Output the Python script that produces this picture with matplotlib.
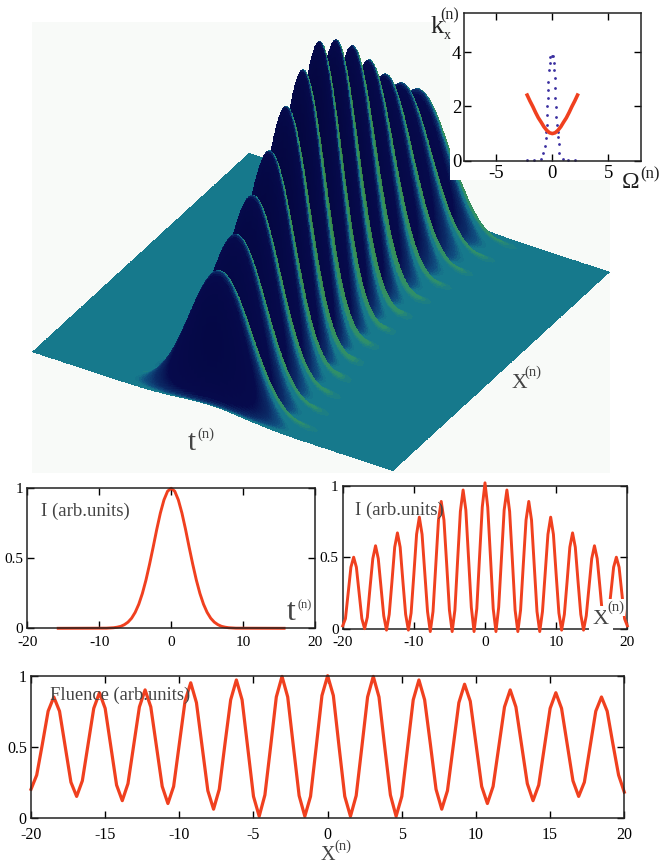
import numpy as np
import matplotlib
matplotlib.use("Agg")
import matplotlib.pyplot as plt
from matplotlib.colors import LinearSegmentedColormap, Normalize
from matplotlib.patches import Rectangle

plt.rcParams["font.family"] = ["Liberation Serif", "DejaVu Serif"]

W, H = 661, 864
RED = "#f0401f"
GREY = "#444444"
DARK = "#222222"

# temporal profile, I(t)
t_vals = [-15.7, -9, -8, -7.5, -7, -6.5, -6, -5.5, -5, -4.5, -4, -3.5, -3, -2.5, -2, -1.5, -1, -0.5, 0,
          0.5, 1, 1.5, 2, 2.5, 3, 3.5, 4, 4.5, 5, 5.5, 6, 6.5, 7, 7.5, 8, 9, 15.7]
i_t = [0, 0.001, 0.004, 0.008, 0.014, 0.026, 0.044, 0.072, 0.114, 0.172, 0.249, 0.345, 0.458, 0.58, 0.707,
       0.823, 0.917, 0.979, 1.0, 0.979, 0.917, 0.823, 0.707, 0.58, 0.458, 0.345, 0.249, 0.172, 0.114,
       0.072, 0.044, 0.026, 0.014, 0.008, 0.004, 0.001, 0]

# pulse gets longer away from the centre of the surface
stretch_x = [-20, -18, -15, -12, -9, -6, -3, 0, 3, 6, 9, 12, 15, 18, 20]
stretch_t = [1.45, 1.4, 1.3, 1.2, 1.1, 1.03, 1.0, 1.0, 1.0, 1.03, 1.1, 1.2, 1.3, 1.4, 1.45]

# fringes, sampled on 105 points between -20 and 20
i_x = [0.02, 0.07, 0.25, 0.43, 0.50, 0.43, 0.25, 0.07, 0.0, 0.08, 0.29, 0.49, 0.58, 0.49, 0.29, 0.09,
       -0.01, 0.10, 0.33, 0.57, 0.67, 0.57, 0.33, 0.10, -0.01, 0.11, 0.38, 0.66, 0.78, 0.66, 0.39, 0.12,
       -0.02, 0.12, 0.44, 0.76, 0.89, 0.76, 0.45, 0.13, -0.02, 0.13, 0.48, 0.82, 0.97, 0.83, 0.49, 0.15,
       -0.02, 0.14, 0.50, 0.85, 1.02, 0.85, 0.50, 0.14, -0.02, 0.15, 0.49, 0.83, 0.97, 0.82, 0.48, 0.13,
       -0.02, 0.13, 0.45, 0.76, 0.89, 0.76, 0.44, 0.12, -0.02, 0.12, 0.39, 0.66, 0.78, 0.66, 0.38, 0.11,
       -0.01, 0.10, 0.33, 0.57, 0.67, 0.57, 0.33, 0.10, -0.01, 0.09, 0.29, 0.49, 0.58, 0.49, 0.29, 0.08,
       0.0, 0.07, 0.25, 0.43, 0.50, 0.43, 0.25, 0.07, 0.02]
fluence = [0.20, 0.30, 0.52, 0.75, 0.85, 0.75, 0.50, 0.25, 0.15, 0.26, 0.515, 0.77, 0.88, 0.77, 0.50, 0.23,
           0.12, 0.24, 0.51, 0.78, 0.90, 0.78, 0.50, 0.22, 0.10, 0.22, 0.52, 0.82, 0.95, 0.81, 0.50, 0.19,
           0.06, 0.20, 0.52, 0.83, 0.97, 0.83, 0.49, 0.15, 0.01, 0.16, 0.50, 0.85, 0.995, 0.85, 0.50, 0.155,
           0.01, 0.15, 0.50, 0.86, 1.0, 0.86, 0.50, 0.15, 0.01, 0.155, 0.50, 0.85, 0.995, 0.85, 0.50, 0.16,
           0.01, 0.15, 0.49, 0.83, 0.97, 0.83, 0.52, 0.20, 0.06, 0.19, 0.50, 0.81, 0.94, 0.82, 0.52, 0.22,
           0.10, 0.22, 0.50, 0.78, 0.90, 0.78, 0.51, 0.24, 0.12, 0.23, 0.50, 0.77, 0.88, 0.77, 0.515, 0.26,
           0.15, 0.25, 0.50, 0.75, 0.85, 0.75, 0.52, 0.30, 0.18]
x_vals = np.linspace(-20, 20, len(i_x))

# inset: dispersion curve and dotted spectrum
omega_curve = [-2.25, -2, -1.75, -1.5, -1.25, -1, -0.75, -0.5, -0.25, 0, 0.25, 0.5, 0.75, 1, 1.25, 1.5, 1.75, 2, 2.25]
k_curve = [2.42, 2.2, 2.0, 1.78, 1.58, 1.42, 1.25, 1.12, 1.03, 1.0, 1.03, 1.12, 1.25, 1.42, 1.58, 1.78, 2.0, 2.2, 2.42]
omega_dots = [-2.25, -1.65, -1.05, -0.84, -0.66, -0.57, -0.54, -0.51, -0.48, -0.45, -0.43, -0.40, -0.36, -0.30,
              -0.24, -0.21, -0.06, 0.09, 0.15, 0.18, 0.21, 0.24, 0.27, 0.33, 0.36, 0.42, 0.48, 0.54, 0.57, 0.63,
              0.93, 1.44, 2.04]
k_dots = [0.02, 0.02, 0.05, 0.27, 0.54, 0.83, 1.07, 1.32, 1.69, 2.0, 2.31, 2.62, 2.92, 3.35, 3.6, 3.82, 3.85, 3.87,
          3.6, 3.35, 3.04, 2.67, 2.3, 1.98, 1.6, 1.3, 1.05, 0.86, 0.62, 0.3, 0.06, 0.03, 0.02]

# layout in pixels: left, top, right, bottom
BOX_INSET = (464, 12.7, 640.7, 160.7)
BOX_T = (27.3, 488.3, 315, 628.3)
BOX_X = (342.7, 485.7, 627.3, 628.7)
BOX_F = (31, 675.7, 624.3, 817.7)


def add_panel(fig, box, xpad=5.5, ypad=3, size=11):
    l, t, r, b = box
    ax = fig.add_axes([l / W, 1 - b / H, (r - l) / W, (b - t) / H])
    ax.tick_params(direction="in", top=True, right=True, length=5, width=1, labelsize=size)
    ax.tick_params(axis="x", pad=xpad)
    ax.tick_params(axis="y", pad=ypad)
    for s in ax.spines.values():
        s.set_linewidth(1.1)
        s.set_color(DARK)
    return ax


def label(fig, x, y, s, size=21, color=GREY, **kw):
    return fig.text(x / W, 1 - y / H, s, fontsize=size, color=color, ha="left", va="baseline", **kw)


def draw_surface(ax):
    # ground plane corners from the picture
    left = np.array([32.0, 352.0])
    bottom = np.array([393.0, 471.0])
    right = np.array([610.0, 272.0])
    z_px = 268.0

    # back to front, so later quads hide earlier ones
    xs = np.linspace(20, -20, 900)
    ts = np.linspace(-20, 20, 620)

    # smooth version of the sampled lineouts
    n_fine = 4200
    spec = np.fft.rfft(np.clip(i_x, 0, None))
    prof = np.fft.irfft(spec, n_fine) * n_fine / len(i_x)
    zx = np.interp(xs, np.linspace(-20, 20, n_fine, endpoint=False), prof).clip(0)

    t_fine = np.linspace(-30, 30, 2401)
    env = np.interp(t_fine, t_vals, i_t, left=0, right=0)
    win = np.hanning(31)
    env = np.convolve(env, win / win.sum(), mode="same")

    T, X = np.meshgrid(ts, xs)
    S = np.interp(X, stretch_x, stretch_t)
    Z = zx[:, None] * np.interp(T / S, t_fine, env)

    u = (T + 20) / 40
    v = (X + 20) / 40
    px = left[0] + u * (bottom[0] - left[0]) + v * (right[0] - bottom[0])
    py = left[1] + u * (bottom[1] - left[1]) + v * (right[1] - bottom[1]) - Z * z_px

    dz_dx, dz_dt = np.gradient(Z, xs, ts)
    slope = dz_dx + 1.1 * dz_dt
    slope = 0.25 * (slope[:-1, :-1] + slope[1:, :-1] + slope[:-1, 1:] + slope[1:, 1:])

    cmap = LinearSegmentedColormap.from_list("lit", [
        (0.00, "#15352a"),
        (0.25, "#2a6a3c"),
        (0.42, "#3a8f50"),
        (0.485, "#2f8f6a"),
        (0.497, "#16798c"),
        (0.512, "#16798c"),
        (0.525, "#104f80"),
        (0.55, "#0b2a66"),
        (0.60, "#060a4c"),
        (1.00, "#04063e"),
    ])
    ax.pcolormesh(px, py, slope, cmap=cmap, norm=Normalize(-1, 1), shading="flat",
                  antialiased=False, linewidth=0, rasterized=True)


fig = plt.figure(figsize=(W / 100, H / 100), dpi=100, facecolor="white")

# background layer in pixel coordinates
bg = fig.add_axes([0, 0, 1, 1])
bg.set_xlim(0, W)
bg.set_ylim(H, 0)
bg.axis("off")
bg.add_patch(Rectangle((32, 22), 578, 451, facecolor="#f8faf8", edgecolor="none"))
draw_surface(bg)
bg.add_patch(Rectangle((450, 0), 211, 180, facecolor="white", edgecolor="none"))
bg.add_patch(Rectangle((610, 0), 51, 864, facecolor="white", edgecolor="none"))

# inset
ax = add_panel(fig, BOX_INSET, xpad=3, ypad=2, size=13.5)
ax.plot(omega_dots, k_dots, ls="none", marker="o", ms=2.0, color="#3a2fa0", mew=0)
ax.plot(omega_curve, k_curve, color=RED, lw=2.6)
ax.set_xlim(-7.9, 7.9)
ax.set_ylim(0, 5.46)
ax.set_xticks([-5, 0, 5], ["-5", "0", "5"])
ax.set_yticks([0, 2, 4], ["0", "2", "4"])

# temporal profile
ax = add_panel(fig, BOX_T)
ax.plot(t_vals, i_t, color=RED, lw=2.1, clip_on=False)
ax.set_xlim(-20, 20)
ax.set_ylim(0, 1)
ax.set_xticks([-20, -10, 0, 10, 20], ["-20", "-10", "0", "10", "20"])
ax.set_yticks([0, 0.5, 1], ["0", "0.5", "1"])

# fringes
ax = add_panel(fig, BOX_X, xpad=5)
ax.plot(x_vals, i_x, color=RED, lw=2.1, clip_on=False, zorder=3)
ax.set_xlim(-20, 20)
ax.set_ylim(0, 1)
ax.set_xticks([-20, -10, 0, 10, 20], ["-20", "-10", "0", "10", "20"])
ax.set_yticks([0, 0.5, 1], ["0", "0.5", "1"])

# fluence
ax = add_panel(fig, BOX_F, xpad=6.5, size=11.5)
ax.plot(x_vals, fluence, color=RED, lw=2.3, clip_on=False)
ax.set_xlim(-20, 20)
ax.set_ylim(0, 1)
ax.set_xticks(range(-20, 21, 5), ["-20", "-15", "-10", "-5", "0", "5", "10", "15", "20"])
ax.set_yticks([0, 0.5, 1], ["0", "0.5", "1"])

# axis names: base letter and (n) are separate texts, sizes differ a lot
label(fig, 431, 33, "k", size=19, color=DARK)
label(fig, 444, 39, "x", size=10, color=DARK)
label(fig, 440, 19, "(n)", size=11.5, color=DARK)
label(fig, 622, 188, "\u03a9", size=17, color=DARK)
label(fig, 640, 178, "(n)", size=12, color=DARK)
label(fig, 188, 450, "t", size=21)
label(fig, 197, 438, "(n)", size=10.5)
label(fig, 512, 388, "X", size=15.5)
label(fig, 524, 376, "(n)", size=10.5)
label(fig, 287, 620, "t", size=23)
label(fig, 298, 608, "(n)", size=9)
label(fig, 593, 624, "X", size=16, bbox=dict(facecolor="white", edgecolor="none", pad=2.5), zorder=10)
label(fig, 607, 611, "(n)", size=10.5, bbox=dict(facecolor="white", edgecolor="none", pad=1.0), zorder=10)
label(fig, 321, 860, "X", size=14.5)
label(fig, 334, 850, "(n)", size=10.5)
label(fig, 41, 516, "I (arb.units)", size=13.5)
label(fig, 355, 515, "I (arb.units)", size=13.5)
label(fig, 50, 700, "Fluence (arb.units)", size=13.3)

fig.savefig("out.png", dpi=100)
